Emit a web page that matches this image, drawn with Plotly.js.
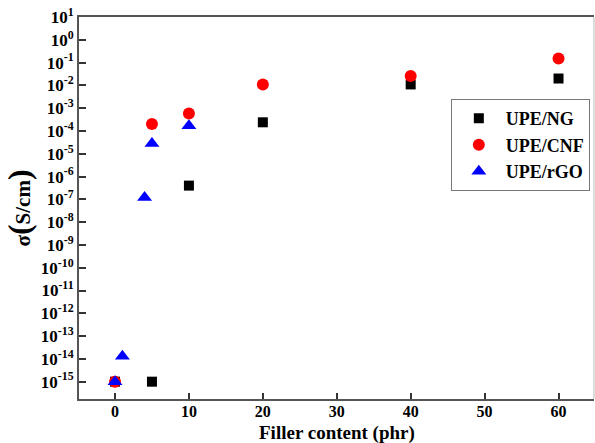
<!DOCTYPE html>
<html><head><meta charset="utf-8">
<script src="https://cdn.plot.ly/plotly-3.0.1.min.js"></script>
<style>html,body{margin:0;padding:0;background:#fff}#c{width:595px;height:443px}</style>
</head><body><div id="c"></div>
<script>
const ngX = [0, 5, 10, 20, 40, 60];
const ngY = [1e-15, 1e-15, 4e-7, 2.4e-4, 1.1e-2, 2.0e-2];
const cnfX = [0, 5, 10, 20, 40, 60];
const cnfY = [1e-15, 2.0e-4, 5.8e-4, 1.1e-2, 2.6e-2, 0.15];
const rgoX = [0, 1, 4, 5, 10];
const rgoY = [1e-15, 1.3e-14, 1.2e-7, 2.8e-5, 1.7e-4];
const xTicks = [0, 10, 20, 30, 40, 50, 60];
const yExps = [1,0,-1,-2,-3,-4,-5,-6,-7,-8,-9,-10,-11,-12,-13,-14,-15];
const yTickVals = yExps.map(e => Math.pow(10, e));
const yTickText = yExps.map(e => '10<sup>' + e + '</sup>');
const xTitle = 'Filler content (phr)';

const font = {family: '"Liberation Serif", "Times New Roman", serif', color: '#000', weight: 'bold'};
const traces = [
  {x: ngX, y: ngY, name: 'UPE/NG', mode: 'markers', type: 'scatter',
   marker: {symbol: 'square', size: 10, color: '#000'}},
  {x: cnfX, y: cnfY, name: 'UPE/CNF', mode: 'markers', type: 'scatter',
   marker: {symbol: 'circle', size: 12, color: '#ff0000'}},
  {x: rgoX, y: rgoY, name: 'UPE/rGO', mode: 'markers', type: 'scatter',
   marker: {symbol: 'triangle-up', size: 13, color: '#0000ff'}}
];
const layout = {
  width: 595, height: 443,
  margin: {l: 79, r: 1, t: 17, b: 44},
  paper_bgcolor: '#fff', plot_bgcolor: '#fff',
  font: Object.assign({}, font, {size: 15}),
  showlegend: true,
  legend: {x: 0.722, y: 0.785, xanchor: 'left', yanchor: 'top',
    bgcolor: '#fff', bordercolor: '#777', borderwidth: 1, tracegroupgap: 0,
    font: Object.assign({}, font, {size: 18}), itemwidth: 44},
  xaxis: {range: [-4.87, 64.8], tickvals: xTicks, ticktext: xTicks.map(String),
    ticks: 'inside', ticklen: 6, tickwidth: 2, tickcolor: '#333',
    showline: true, linewidth: 2, linecolor: '#555', mirror: true,
    showgrid: false, zeroline: false, ticklabelstandoff: -3,
    tickfont: Object.assign({}, font, {size: 16})},
  yaxis: {type: 'log', range: [-15.76, 1], tickvals: yTickVals, ticktext: yTickText,
    ticks: 'inside', ticklen: 7, tickwidth: 2, tickcolor: '#333',
    showline: true, linewidth: 2, linecolor: '#555',
    showgrid: false, zeroline: false,
    tickfont: Object.assign({}, font, {size: 17}),
    title: {text: 'σ<span style="font-size:32px">(</span>S/cm<span style="font-size:32px">)</span>', standoff: 4,
      font: Object.assign({}, font, {size: 21})}},
  annotations: [{text: xTitle, xref: 'paper', yref: 'paper', x: 0.5, y: -0.088,
    xanchor: 'center', yanchor: 'middle', showarrow: false,
    font: Object.assign({}, font, {size: 19})}],
  shapes: [{type: 'line', xref: 'paper', yref: 'paper', x0: 1, x1: 1, y0: 0, y1: 1,
    line: {color: '#bbb', width: 1}}]
};
Plotly.newPlot('c', traces, layout, {displayModeBar: false, staticPlot: true});
</script></body></html>
